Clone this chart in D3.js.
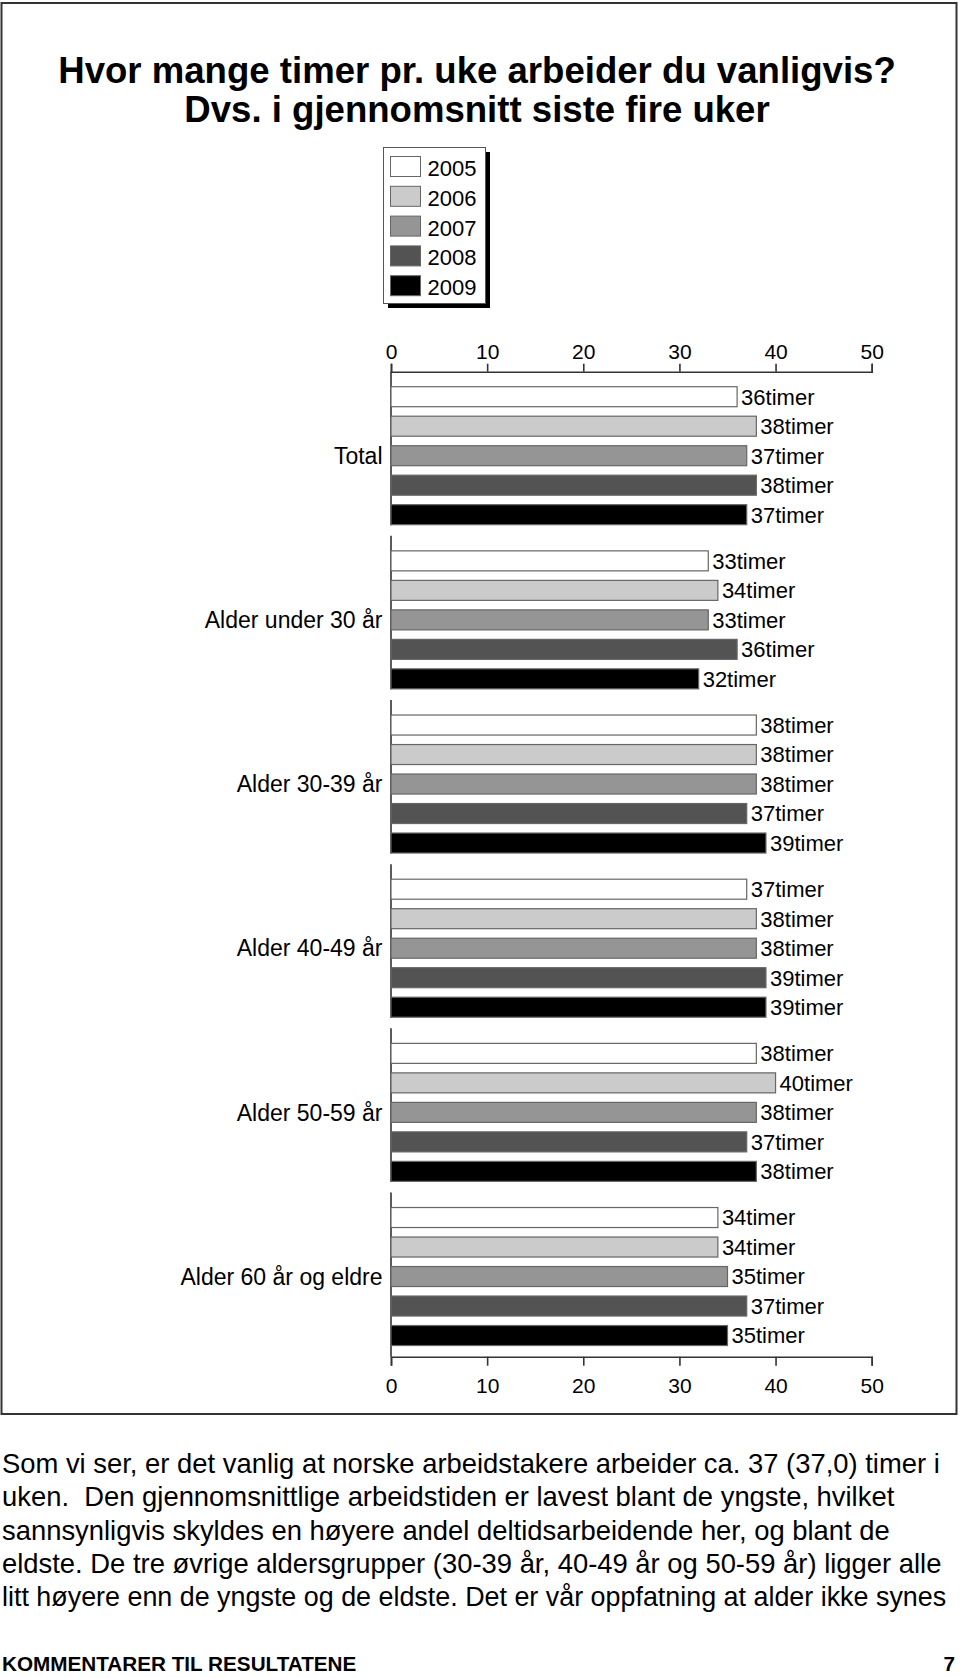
<!DOCTYPE html>
<html>
<head>
<meta charset="utf-8">
<script src="https://cdn.jsdelivr.net/npm/d3@7/dist/d3.min.js"></script>
<style>
  html, body { margin: 0; padding: 0; background: #fff; }
  svg { display: block; }
  text { font-family: "Liberation Sans", Arial, Helvetica, sans-serif; fill: #000; }
</style>
</head>
<body>
<svg id="chart" width="960" height="1678"></svg>
<script>
// ---- data ----
const titleLines = ["Hvor mange timer pr. uke arbeider du vanligvis?", "Dvs. i gjennomsnitt siste fire uker"];
const categories = ["Total", "Alder under 30 år", "Alder 30-39 år", "Alder 40-49 år", "Alder 50-59 år", "Alder 60 år og eldre"];
const years = ["2005", "2006", "2007", "2008", "2009"];
const colors = ["#ffffff", "#cbcbcb", "#959595", "#535353", "#000000"];
const v2005 = [36, 33, 38, 37, 38, 34];
const v2006 = [38, 34, 38, 38, 40, 34];
const v2007 = [37, 33, 38, 38, 38, 35];
const v2008 = [38, 36, 37, 39, 37, 37];
const v2009 = [37, 32, 39, 39, 38, 35];
const series = [v2005, v2006, v2007, v2008, v2009];
const tickValues = [0, 10, 20, 30, 40, 50];
const unitSuffix = "timer";
const bodyLines = [
  "Som vi ser, er det vanlig at norske arbeidstakere arbeider ca. 37 (37,0) timer i",
  "uken.  Den gjennomsnittlige arbeidstiden er lavest blant de yngste, hvilket",
  "sannsynligvis skyldes en høyere andel deltidsarbeidende her, og blant de",
  "eldste. De tre øvrige aldersgrupper (30-39 år, 40-49 år og 50-59 år) ligger alle",
  "litt høyere enn de yngste og de eldste. Det er vår oppfatning at alder ikke synes"
];
const footerLeft = "KOMMENTARER TIL RESULTATENE";
const footerRight = "7";

// ---- layout ----
const svg = d3.select("#chart");
const axisTopY = 371.7, axisBottomY = 1356.7;
const x = d3.scaleLinear().domain([0, 50]).range([391, 871.7]);
const yGroup = d3.scaleBand().domain(categories).range([axisTopY, axisBottomY]).paddingInner(0).paddingOuter(0);
const yBar = d3.scaleBand().domain(years).range([15, 153]).paddingInner(0.322).paddingOuter(0);

// frame
svg.append("rect").attr("x", 1.5).attr("y", 3).attr("width", 955).attr("height", 1411)
  .attr("fill", "none").attr("stroke", "#333").attr("stroke-width", 2);

// title
svg.append("g").selectAll("text").data(titleLines).join("text")
  .attr("x", 477).attr("y", (d, i) => 83 + i * 39)
  .attr("text-anchor", "middle").attr("font-weight", "bold").attr("font-size", 36.6)
  .text(d => d);

// legend
const lg = svg.append("g");
lg.append("rect").attr("x", 388).attr("y", 152).attr("width", 102).attr("height", 156).attr("fill", "#000");
lg.append("rect").attr("x", 383.5).attr("y", 147.5).attr("width", 102).attr("height", 156)
  .attr("fill", "#fff").attr("stroke", "#555").attr("stroke-width", 1);
const li = lg.selectAll("g.item").data(years).join("g").attr("class", "item")
  .attr("transform", (d, i) => `translate(390.5, ${156.5 + i * 29.8})`);
li.append("rect").attr("width", 30).attr("height", 20)
  .attr("fill", (d, i) => colors[i]).attr("stroke", "#666").attr("stroke-width", 1);
li.append("text").attr("x", 37).attr("y", 19.5).attr("font-size", 22).text(d => d);

// axes
const axTop = svg.append("g").attr("transform", `translate(0,${axisTopY})`)
  .call(d3.axisTop(x).tickValues(tickValues).tickSize(8).tickPadding(5).tickFormat(d3.format("d")));
const axBot = svg.append("g").attr("transform", `translate(0,${axisBottomY})`)
  .call(d3.axisBottom(x).tickValues(tickValues).tickSize(9).tickPadding(12).tickFormat(d3.format("d")));
[axTop, axBot].forEach(a => {
  a.select(".domain").attr("stroke", "#333").attr("stroke-width", 1.6);
  a.selectAll(".tick line").attr("stroke", "#333").attr("stroke-width", 1.6);
  a.selectAll(".tick text").attr("font-size", 21).attr("font-family", "Liberation Sans, Arial, sans-serif").attr("fill", "#000");
});

// groups
const groups = svg.append("g").selectAll("g.grp").data(categories).join("g").attr("class", "grp")
  .attr("transform", d => `translate(0,${yGroup(d)})`);

// broken y axis segments
groups.append("line")
  .attr("x1", x(0)).attr("x2", x(0)).attr("y1", 0)
  .attr("y2", (d, i) => i === categories.length - 1 ? yGroup.bandwidth() : 153.5)
  .attr("stroke", "#333").attr("stroke-width", 1.6);

// category labels
groups.append("text").attr("x", 382.5)
  .attr("y", yBar(years[2]) + yBar.bandwidth() / 2)
  .attr("dy", "0.36em").attr("text-anchor", "end").attr("font-size", 23)
  .text(d => d);

// bars
groups.each(function (cat, gi) {
  const g = d3.select(this);
  const rows = years.map((yr, si) => ({ yr, si, v: series[si][gi] }));
  g.selectAll("rect.bar").data(rows).join("rect").attr("class", "bar")
    .attr("x", x(0)).attr("y", d => yBar(d.yr))
    .attr("width", d => x(d.v) - x(0)).attr("height", yBar.bandwidth())
    .attr("fill", d => colors[d.si]).attr("stroke", "#666").attr("stroke-width", 1.2);
  g.selectAll("text.lbl").data(rows).join("text").attr("class", "lbl")
    .attr("x", d => x(d.v) + 4).attr("y", d => yBar(d.yr) + yBar.bandwidth() / 2)
    .attr("dy", "0.36em").attr("font-size", 22)
    .text(d => d.v + unitSuffix);
});

// body text
const bodyFont = 27.4, bodyMax = 944;
svg.append("g").selectAll("text").data(bodyLines).join("text")
  .attr("x", 2).attr("y", (d, i) => 1473 + i * 33.3)
  .attr("font-size", bodyFont).style("white-space", "pre")
  .text(d => d)
  .each(function () {
    const len = this.getComputedTextLength();
    if (len > bodyMax) d3.select(this).attr("font-size", (bodyFont * bodyMax / len).toFixed(2));
  });

// footer
svg.append("text").attr("x", 2).attr("y", 1671).attr("font-weight", "bold").attr("font-size", 20.7).text(footerLeft);
svg.append("text").attr("x", 955).attr("y", 1671).attr("text-anchor", "end").attr("font-weight", "bold").attr("font-size", 20.7).text(footerRight);
</script>
</body>
</html>
